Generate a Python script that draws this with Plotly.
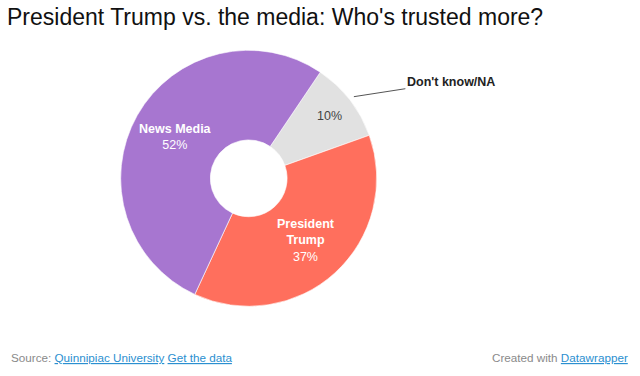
import math
import plotly.graph_objects as go

# ---- data ----
categories = ["Don't know/NA", "President Trump", "News Media"]
inside_names = ["", "President<br>Trump", "News Media"]
values = [10, 37, 52]
colors = ["#e1e1e1", "#ff6f5d", "#a776d0"]
label_colors = ["#444444", "#ffffff", "#ffffff"]
label_radius = [0.80, 0.66, 0.66]

title = "President Trump vs. the media: Who's trusted more?"

W, H = 640, 376


def fx(px):
    return px / W


def fy(py):
    return 1 - py / H


cx, cy, R = 248.7, 178.3, 128.0   # pie centre/radius in window px
rotation = 34

fig = go.Figure(go.Pie(
    labels=categories,
    values=values,
    sort=False,
    direction="clockwise",
    rotation=rotation,
    hole=0.30,
    marker=dict(colors=colors, line=dict(color="#ffffff", width=0.6)),
    textinfo="none",
    hoverinfo="label+value",
    showlegend=False,
    domain=dict(x=[fx(cx - R), fx(cx + R)],
                y=[fy(cy + R), fy(cy - R)]),
))

annotations = []
total = sum(values)
start = rotation
for name, inner, v, col, rf in zip(categories, inside_names, values, label_colors, label_radius):
    span = 360.0 * v / total
    mid = math.radians(start + span / 2)
    start += span
    pct = f"{v}%"
    px = cx + rf * R * math.sin(mid)
    py = cy - rf * R * math.cos(mid)
    txt = f"<b>{inner}</b><br>{pct}" if inner else pct
    annotations.append(dict(
        x=fx(px), y=fy(py), xref="paper", yref="paper",
        xanchor="center", yanchor="middle",
        text=txt, showarrow=False, align="center",
        font=dict(family="Liberation Sans, Arial", size=12.5, color=col),
    ))
    if not inner:
        ex = cx + 1.04 * R * math.sin(mid)
        ey = cy - 1.04 * R * math.cos(mid)
        annotations.append(dict(
            x=fx(ex), y=fy(ey), xref="paper", yref="paper",
            text=f"<b>{name}</b>", showarrow=True, arrowhead=0,
            arrowwidth=1, arrowcolor="#555555",
            ax=97, ay=-15, xanchor="center", yanchor="middle",
            font=dict(family="Liberation Sans, Arial", size=12.5, color="#222222"),
        ))

# title
annotations.append(dict(
    x=fx(5), y=fy(17), xref="paper", yref="paper", xanchor="left", yanchor="middle",
    text=title, showarrow=False,
    font=dict(family="Liberation Sans, Arial", size=23, color="#111111"),
))
# footer
link = "#2b8fd0"
annotations.append(dict(
    x=fx(9), y=fy(357), xref="paper", yref="paper", xanchor="left", yanchor="middle",
    text=(f"Source: <span style='color:{link}'><u>Quinnipiac University</u></span> "
          f"<span style='color:{link}'><u>Get the data</u></span>"),
    showarrow=False, font=dict(family="Liberation Sans, Arial", size=11.7, color="#8a8a8a"),
))
annotations.append(dict(
    x=fx(630), y=fy(357), xref="paper", yref="paper", xanchor="right", yanchor="middle",
    text=f"Created with <span style='color:{link}'><u>Datawrapper</u></span>",
    showarrow=False, font=dict(family="Liberation Sans, Arial", size=11.7, color="#8a8a8a"),
))

fig.update_layout(
    width=W, height=H,
    margin=dict(l=0, r=0, t=0, b=0),
    paper_bgcolor="#ffffff", plot_bgcolor="#ffffff",
    annotations=annotations,
)

fig.write_html("out.html", config={"displayModeBar": False},
               post_script="document.body.style.margin='0';")
